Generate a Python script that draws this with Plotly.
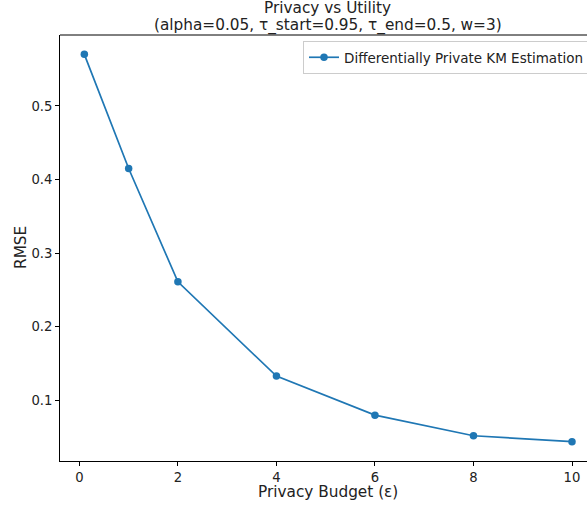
import plotly.graph_objects as go

epsilons = [0.1, 1, 2, 4, 6, 8, 10]
rmse = [0.570, 0.415, 0.261, 0.133, 0.080, 0.052, 0.044]
x_ticks = [0, 2, 4, 6, 8, 10]
y_ticks = [0.1, 0.2, 0.3, 0.4, 0.5]
series_name = "Differentially Private KM Estimation"
title_line1 = "Privacy vs Utility"
title_line2 = "(alpha=0.05, τ_start=0.95, τ_end=0.5, w=3)"
x_label = "Privacy Budget (ε)"
y_label = "RMSE"

FONT = "DejaVu Sans"
W, H = 587, 506
L, R, T, B = 60, 0, 35, 45
PW, PH = W - L - R, H - T - B
TICK, LEG, TITLE, LABEL = 13.2, 13.5, 15.3, 15.3
X0, XSCALE = 79.4, 49.26  # pixel of x=0, pixels per unit (from reference)

fig = go.Figure()
fig.add_trace(go.Scatter(
    x=epsilons, y=rmse, mode="lines+markers", name=series_name,
    line=dict(color="#1f77b4", width=1.7),
    marker=dict(color="#1f77b4", size=7.5),
    showlegend=True,
))

fig.update_layout(
    width=W, height=H, autosize=False,
    margin=dict(l=L, r=R, t=T, b=B, pad=0, autoexpand=False),
    paper_bgcolor="white", plot_bgcolor="white",
    font=dict(family=FONT, size=TICK, color="black"),
    xaxis=dict(
        range=[(L - X0) / XSCALE, (W - R - X0) / XSCALE],
        tickvals=x_ticks, ticks="outside", ticklen=4, tickcolor="black", tickwidth=1,
        showline=True, linecolor="black", linewidth=1, mirror=False,
        showgrid=False, zeroline=False, automargin=False,
        tickfont=dict(family=FONT, size=TICK, color="#222222"),
    ),
    yaxis=dict(
        range=[0.0177, 0.5963],
        tickvals=y_ticks, ticktext=[f"{v:.1f}" for v in y_ticks],
        ticks="outside", ticklen=4, tickcolor="black", tickwidth=1,
        showline=True, linecolor="black", linewidth=1, mirror=False,
        showgrid=False, zeroline=False, automargin=False,
        tickfont=dict(family=FONT, size=TICK, color="#222222"),
    ),
    legend=dict(
        x=(303 - L) / PW, y=1 - 6 / PH,
        xanchor="left", yanchor="top",
        bgcolor="rgba(255,255,255,0.8)", bordercolor="#cccccc", borderwidth=1,
        font=dict(family=FONT, size=LEG, color="#222222"),
        itemwidth=30,
    ),
    showlegend=True,
)

# top spine (no right spine: the axes extend past the figure edge)
fig.add_shape(type="line", xref="paper", yref="paper", x0=0, x1=1, y0=1, y1=1,
              line=dict(color="black", width=1))

axes_center = (327.5 - L) / PW
fig.add_annotation(text=title_line1, xref="paper", yref="paper",
                   x=axes_center, y=1 + (35 - 8) / PH, yanchor="middle", xanchor="center",
                   showarrow=False, font=dict(family=FONT, size=TITLE, color="#222222"))
fig.add_annotation(text=title_line2, xref="paper", yref="paper",
                   x=axes_center, y=1 + (35 - 25) / PH, yanchor="middle", xanchor="center",
                   showarrow=False, font=dict(family=FONT, size=TITLE, color="#222222"))
fig.add_annotation(text=x_label, xref="paper", yref="paper",
                   x=axes_center, y=-(492 - 461) / PH, yanchor="middle", xanchor="center",
                   showarrow=False, font=dict(family=FONT, size=LABEL, color="#222222"))
fig.add_annotation(text=y_label, xref="paper", yref="paper",
                   x=(21 - L) / PW, y=0.5, xanchor="center", yanchor="middle",
                   textangle=-90, showarrow=False,
                   font=dict(family=FONT, size=LABEL, color="#222222"))

post = (
    "document.documentElement.style.margin='0';"
    "document.documentElement.style.overflow='hidden';"
    "document.body.style.margin='0';document.body.style.padding='0';"
    "document.body.style.overflow='hidden';"
    "var gd=document.getElementById('{plot_id}');"
    "Plotly.relayout(gd,{width:587,height:506});"
)

fig.write_html(
    "out.html",
    config={"displayModeBar": False, "responsive": False},
    post_script=post,
)
